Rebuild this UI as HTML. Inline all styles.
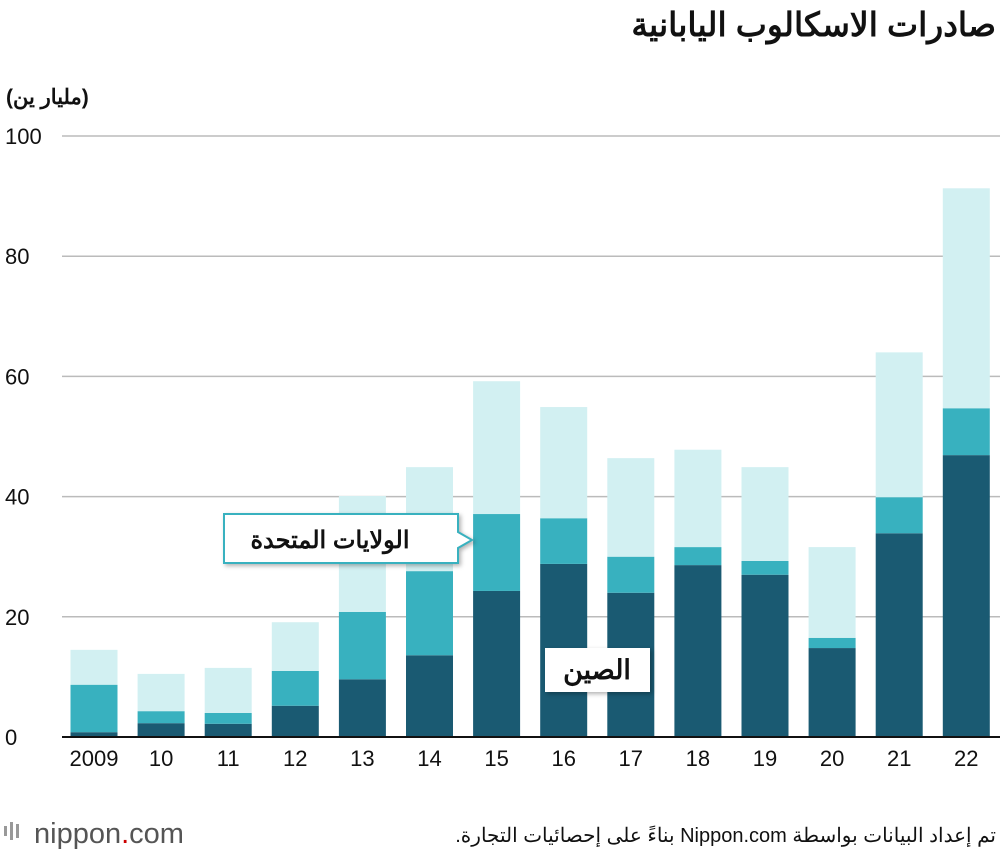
<!DOCTYPE html>
<html><head><meta charset="utf-8"><style>
body{margin:0;background:#fff;width:1000px;height:856px;overflow:hidden;font-family:"Liberation Sans","Noto Sans CJK SC",sans-serif}
</style></head><body>
<svg width="1000" height="856" xmlns="http://www.w3.org/2000/svg">
<text x="996" y="36" text-anchor="end" font-size="33" font-weight="bold" fill="#111">صادرات الاسكالوب اليابانية</text>
<text x="6" y="104" font-size="21" font-weight="bold" fill="#111">(مليار ين)</text>
<g id="grid"></g><g id="bars"></g><g id="xl"></g>
<line x1="62" x2="1000" y1="737" y2="737" stroke="#111" stroke-width="2"/>
<g>
<path d="M224 514 H458 V532 L472 540 L458 548 V563 H224 Z" fill="#fff" stroke="#38b1bf" stroke-width="2" filter="drop-shadow(2px 2px 2px rgba(0,0,0,0.3))"/>
<text x="330" y="548" text-anchor="middle" font-size="24" font-weight="bold" fill="#111">الولايات المتحدة</text></g>
<g>
<rect x="545" y="648" width="105" height="44" fill="#fff" filter="drop-shadow(2px 2px 2px rgba(0,0,0,0.3))"/>
<text x="597" y="679" text-anchor="middle" font-size="27" font-weight="bold" fill="#111">الصين</text></g>
<g>
<rect x="4" y="826" width="3" height="10" fill="#999"/><rect x="10" y="822" width="3" height="18" fill="#999"/><rect x="16" y="824" width="3" height="14" fill="#999"/>
<text x="34" y="843" font-size="29" fill="#555">nippon<tspan fill="#c00">.</tspan>com</text></g>
<text x="996" y="842" text-anchor="start" direction="rtl" font-size="20" fill="#111">تم إعداد البيانات بواسطة Nippon.com بناءً على إحصائيات التجارة.</text>
</svg>
<script>
const years=["2009","10","11","12","13","14","15","16","17","18","19","20","21","22"];
const china=[0.8,2.3,2.2,5.2,9.6,13.6,24.3,28.8,24,28.6,27,14.8,33.9,46.9];
const usa=[7.9,2.0,1.8,5.8,11.2,14.0,12.8,7.6,6.0,3.0,2.3,1.7,6.0,7.8];
const other=[5.8,6.2,7.5,8.1,19.3,17.3,22.1,18.5,16.4,16.2,15.6,15.1,24.1,36.6];
const ticks=[0,20,40,60,80,100];
const NS="http://www.w3.org/2000/svg";
const y=v=>737-v*6.01;
const x=i=>94+i*67.1;
const g=document.getElementById('grid'),b=document.getElementById('bars'),xl=document.getElementById('xl');
function mk(tag,attrs,parent){const e=document.createElementNS(NS,tag);for(const k in attrs)e.setAttribute(k,attrs[k]);parent.appendChild(e);return e;}
ticks.forEach(t=>{
 if(t>0){const l=mk('line',{x1:62,x2:1000,y1:y(t),y2:y(t),stroke:'#bbb','stroke-width':1.5},g);
 
 }
 const tx=mk('text',{x:5,y:y(t)+8,'font-size':22,fill:'#111'},g);tx.textContent=t;
 
 
});
years.forEach((yr,i)=>{
 const segs=[[0,china[i],'#1a5a72','china'],[china[i],china[i]+usa[i],'#38b1bf','usa'],[china[i]+usa[i],china[i]+usa[i]+other[i],'#d2f0f2','other']];
 segs.forEach(s=>{const r=mk('rect',{x:x(i)-23.5,width:47,y:y(s[1]),height:y(s[0])-y(s[1]),fill:s[2]},b);
 
 });
 const tx=mk('text',{x:x(i),y:766,'text-anchor':'middle','font-size':22,fill:'#111'},xl);tx.textContent=yr;
 
 
});
</script>
</body></html>
